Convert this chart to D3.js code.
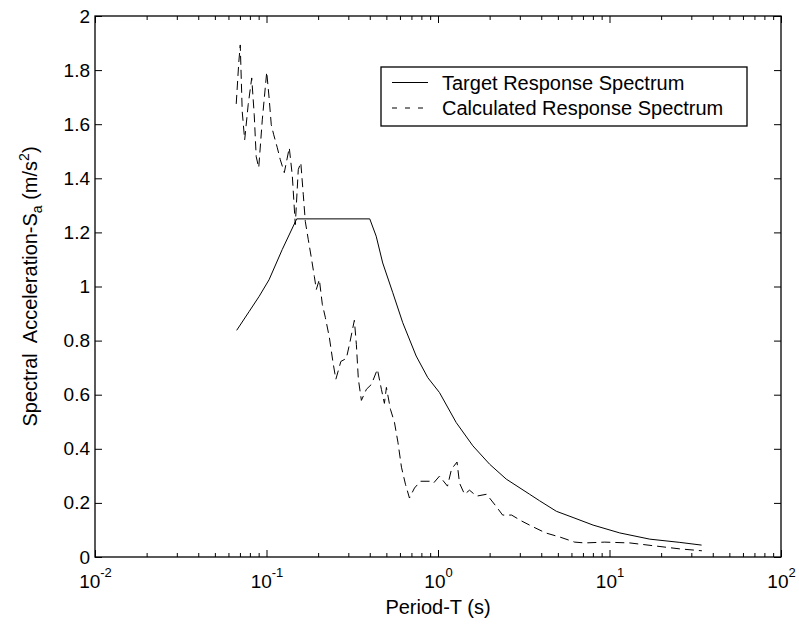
<!DOCTYPE html>
<html lang="en">
<head>
<meta charset="UTF-8">
<title>Response Spectrum</title>
<script src="https://d3js.org/d3.v7.min.js"></script>
<style>
  body { margin: 0; background: #fff; }
  svg { font-family: "Liberation Sans", Arial, sans-serif; }
  .line { fill: none; stroke: #000; stroke-width: 1; }
  .dashed { stroke-dasharray: 9, 5; }
</style>
</head>
<body>
<div id="chart"></div>
<script>
const width = 799;
const height = 626;
const marginTop = 16;
const marginRight = 18;
const marginBottom = 69;
const marginLeft = 95;

// target spectrum (solid)
const targetPeriod = [0.067, 0.0793, 0.0907, 0.1035, 0.1236, 0.15, 0.40, 0.436, 0.476, 0.545,
  0.623, 0.746, 0.872, 1.02, 1.277, 1.597, 2.0, 2.5, 3.42, 3.91,
  4.9, 6.13, 8.02, 11.48, 17.18, 25.72, 34.43];
const targetSa = [0.838, 0.908, 0.964, 1.025, 1.137, 1.25, 1.25, 1.186, 1.087, 0.977,
  0.866, 0.743, 0.663, 0.608, 0.497, 0.411, 0.343, 0.288, 0.232, 0.208,
  0.169, 0.146, 0.118, 0.089, 0.066, 0.054, 0.044];

// calculated spectrum (dashed)
const calcPeriod = [0.0666, 0.0689, 0.0703, 0.0722, 0.0746, 0.0782, 0.0820, 0.0848, 0.0871, 0.0901,
  0.0945, 0.1003, 0.1038, 0.1066, 0.1102, 0.1156, 0.1203, 0.1270, 0.1358, 0.1414,
  0.1472, 0.1532, 0.1585, 0.1639, 0.1684, 0.1753, 0.1825, 0.1901, 0.1952, 0.2033,
  0.2116, 0.2203, 0.2325, 0.2437, 0.2537, 0.2714, 0.2921, 0.3063, 0.3253, 0.3342,
  0.3433, 0.3575, 0.3824, 0.4090, 0.4432, 0.4677, 0.4870, 0.5003, 0.5281, 0.5572,
  0.5840, 0.6123, 0.6460, 0.6816, 0.7292, 0.7902, 0.8920, 0.9413, 1.020, 1.136,
  1.199, 1.291, 1.335, 1.428, 1.527, 1.678, 1.920, 2.196, 2.381, 2.687,
  3.074, 3.516, 4.244, 5.123, 6.267, 7.170, 9.38, 13.13, 18.37, 25.72,
  34.57];
const calcSa = [1.675, 1.827, 1.893, 1.646, 1.542, 1.672, 1.771, 1.635, 1.480, 1.439,
  1.616, 1.793, 1.690, 1.598, 1.561, 1.513, 1.469, 1.421, 1.513, 1.410,
  1.229, 1.432, 1.458, 1.339, 1.240, 1.173, 1.107, 1.037, 0.989, 1.026,
  0.934, 0.886, 0.812, 0.723, 0.657, 0.723, 0.734, 0.793, 0.875, 0.786,
  0.657, 0.579, 0.620, 0.638, 0.694, 0.620, 0.568, 0.627, 0.546, 0.498,
  0.424, 0.332, 0.269, 0.218, 0.255, 0.280, 0.280, 0.273, 0.299, 0.262,
  0.325, 0.351, 0.273, 0.232, 0.247, 0.225, 0.232, 0.185, 0.155, 0.155,
  0.133, 0.114, 0.089, 0.074, 0.055, 0.052, 0.055, 0.052, 0.041, 0.030,
  0.023];

const xDecades = [-2, -1, 0, 1, 2];
const yTicks = [0, 0.2, 0.4, 0.6, 0.8, 1, 1.2, 1.4, 1.6, 1.8, 2];
const legendLabels = ["Target Response Spectrum", "Calculated Response Spectrum"];

const x = d3.scaleLog()
  .domain([0.01, 100])
  .range([marginLeft, width - marginRight]);

const y = d3.scaleLinear()
  .domain([0, 2])
  .range([height - marginBottom, marginTop]);

const majorX = xDecades.map(e => Math.pow(10, e));
const minorX = [];
xDecades.slice(0, -1).forEach(e => {
  for (let k = 2; k <= 9; k++) minorX.push(k * Math.pow(10, e));
});

const svg = d3.select("#chart").append("svg")
  .attr("width", width)
  .attr("height", height)
  .attr("viewBox", [0, 0, width, height]);

function styleAxis(g) {
  g.attr("font-family", null).attr("font-size", null);
  g.select(".domain").remove();
  g.selectAll(".tick line").attr("stroke", "#000");
}

// bottom axis: minor + major ticks, 10^n labels
svg.append("g")
  .attr("transform", `translate(0,${height - marginBottom})`)
  .call(d3.axisBottom(x).tickValues(minorX).tickSizeInner(-4).tickSizeOuter(0).tickFormat(""))
  .call(styleAxis);

svg.append("g")
  .attr("transform", `translate(0,${height - marginBottom})`)
  .call(d3.axisBottom(x).tickValues(majorX).tickSizeInner(-7).tickSizeOuter(0).tickFormat(""))
  .call(styleAxis)
  .call(g => g.selectAll(".tick text").remove())
  .call(g => g.selectAll(".tick").each(function (d, i) {
    const t = d3.select(this).append("text")
      .attr("y", 31)
      .attr("fill", "#000")
      .attr("font-size", 19)
      .attr("text-anchor", "middle");
    t.append("tspan").text("10");
    t.append("tspan").attr("dy", -11).attr("font-size", 13).text(xDecades[i]);
  }));

// top axis ticks
svg.append("g")
  .attr("transform", `translate(0,${marginTop})`)
  .call(d3.axisTop(x).tickValues(minorX).tickSizeInner(-4).tickSizeOuter(0).tickFormat(""))
  .call(styleAxis);

svg.append("g")
  .attr("transform", `translate(0,${marginTop})`)
  .call(d3.axisTop(x).tickValues(majorX).tickSizeInner(-7).tickSizeOuter(0).tickFormat(""))
  .call(styleAxis);

// left axis
svg.append("g")
  .attr("transform", `translate(${marginLeft},0)`)
  .call(d3.axisLeft(y).tickValues(yTicks).tickSizeInner(-7).tickSizeOuter(0).tickPadding(5)
    .tickFormat(d => d3.format("")(+d.toFixed(1))))
  .call(styleAxis)
  .call(g => g.selectAll(".tick text").attr("fill", "#000").attr("font-size", 19));

// right axis
svg.append("g")
  .attr("transform", `translate(${width - marginRight},0)`)
  .call(d3.axisRight(y).tickValues(yTicks).tickSizeInner(-7).tickSizeOuter(0).tickFormat(""))
  .call(styleAxis);

// frame
svg.append("rect")
  .attr("x", marginLeft)
  .attr("y", marginTop)
  .attr("width", width - marginLeft - marginRight)
  .attr("height", height - marginTop - marginBottom)
  .attr("fill", "none")
  .attr("stroke", "#000")
  .attr("stroke-width", 1.3);

const line = d3.line()
  .x(d => x(d[0]))
  .y(d => y(d[1]));

svg.append("path")
  .datum(d3.zip(targetPeriod, targetSa))
  .attr("class", "line")
  .attr("d", line);

svg.append("path")
  .datum(d3.zip(calcPeriod, calcSa))
  .attr("class", "line dashed")
  .attr("d", line);

// axis titles
svg.append("text")
  .attr("x", x(1))
  .attr("y", 614)
  .attr("text-anchor", "middle")
  .attr("font-size", 20)
  .text("Period-T (s)");

const yl = svg.append("text")
  .attr("transform", `translate(37,${(marginTop + height - marginBottom) / 2}) rotate(-90)`)
  .attr("text-anchor", "middle")
  .attr("font-size", 20)
  .attr("xml:space", "preserve");
yl.append("tspan").text("Spectral  Acceleration-S");
yl.append("tspan").attr("dy", 5).attr("font-size", 14).text("a");
yl.append("tspan").attr("dy", -5).text(" (m/s");
yl.append("tspan").attr("dy", -8).attr("font-size", 14).text("2");
yl.append("tspan").attr("dy", 8).text(")");

// legend
const legend = svg.append("g");
legend.append("rect")
  .attr("x", 381)
  .attr("y", 67)
  .attr("width", 366)
  .attr("height", 59)
  .attr("fill", "#fff")
  .attr("stroke", "#000")
  .attr("stroke-width", 1.3);

legendLabels.forEach((label, i) => {
  const ly = 82.5 + i * 25.5;
  legend.append("line")
    .attr("class", i === 0 ? "line" : "line dashed")
    .attr("x1", 392).attr("x2", 428)
    .attr("y1", ly).attr("y2", ly)
    .style("stroke-dasharray", i === 0 ? null : "5, 8");
  legend.append("text")
    .attr("x", 442)
    .attr("y", ly + 7)
    .attr("font-size", 20)
    .text(label);
});
</script>
</body>
</html>
